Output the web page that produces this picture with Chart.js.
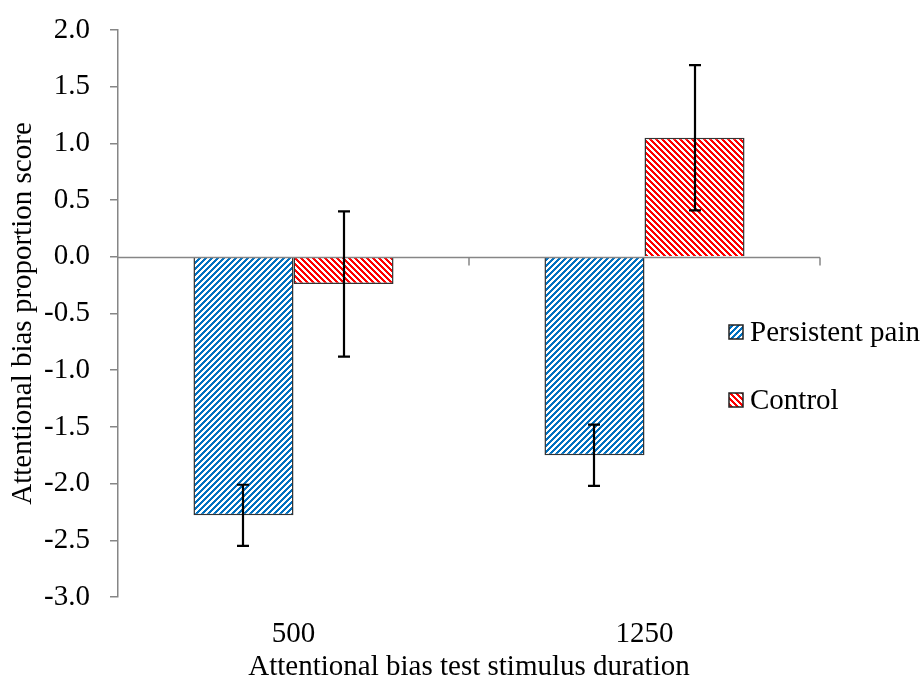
<!DOCTYPE html>
<html>
<head>
<meta charset="utf-8">
<script src="https://cdn.jsdelivr.net/npm/chart.js@4/dist/chart.umd.min.js"></script>
<style>
html,body{margin:0;padding:0;background:#fff;}
#wrap{width:923px;height:683px;}
</style>
</head>
<body>
<div id="wrap"><canvas id="c" width="923" height="683"></canvas></div>
<script>
const categories = ['500', '1250'];
const seriesNames = ['Persistent pain', 'Control'];
const persistentPain = [-2.28, -1.75];
const persistentPainErr = [0.27, 0.27];
const control = [-0.24, 1.05];
const controlErr = [0.64, 0.64];
const yTicks = [-3.0, -2.5, -2.0, -1.5, -1.0, -0.5, 0.0, 0.5, 1.0, 1.5, 2.0];

const FONT = "'Liberation Serif', 'Times New Roman', serif";
const FS = 29;
const AXIS = '#868686';

function makePattern(color, dir) {
  const n = 6, c = document.createElement('canvas');
  c.width = n; c.height = n;
  const g = c.getContext('2d');
  g.fillStyle = '#fff'; g.fillRect(0, 0, n, n);
  g.fillStyle = color;
  for (let x = 0; x < n; x++) for (let y = 0; y < n; y++) {
    const k = dir === '/' ? (x + y) % n : ((x - y) % n + n) % n;
    if (k < 3) g.fillRect(x, y, 1, 1);
  }
  return document.getElementById('c').getContext('2d').createPattern(c, 'repeat');
}
const bluePat = makePattern('#0070C0', '/');
const redPat = makePattern('#FF0000', '\\');

const errs = [persistentPainErr, controlErr];

const extras = {
  id: 'extras',
  afterDatasetsDraw(chart) {
    const ctx = chart.ctx, y = chart.scales.y;
    const ca = chart.chartArea;
    ctx.save();
    // zero axis line
    const y0 = Math.round(y.getPixelForValue(0)) + 0.5;
    ctx.strokeStyle = AXIS; ctx.lineWidth = 1.5;
    ctx.beginPath(); ctx.moveTo(ca.left, y0); ctx.lineTo(ca.right, y0); ctx.stroke();
    // category boundary ticks
    const n = categories.length;
    for (let i = 1; i <= n; i++) {
      const bx = ca.left + (ca.right - ca.left) * i / n;
      ctx.beginPath(); ctx.moveTo(bx, y0); ctx.lineTo(bx, y0 + 8); ctx.stroke();
    }
    // error bars
    ctx.strokeStyle = '#000'; ctx.lineWidth = 2.2;
    chart.data.datasets.forEach((ds, di) => {
      const meta = chart.getDatasetMeta(di);
      meta.data.forEach((bar, i) => {
        const v = ds.data[i], e = errs[di][i];
        const cx = Math.round(bar.x);
        const yt = y.getPixelForValue(v + e), yb = y.getPixelForValue(v - e);
        ctx.beginPath();
        ctx.moveTo(cx, yt); ctx.lineTo(cx, yb);
        ctx.moveTo(cx - 6, yt); ctx.lineTo(cx + 6, yt);
        ctx.moveTo(cx - 6, yb); ctx.lineTo(cx + 6, yb);
        ctx.stroke();
      });
    });
    // legend
    const legendY = [332, 400];
    chart.data.datasets.forEach((ds, di) => {
      const ly = legendY[di];
      ctx.fillStyle = ds.backgroundColor;
      ctx.fillRect(729, ly - 7, 14, 14);
      ctx.strokeStyle = '#222'; ctx.lineWidth = 1.5;
      ctx.strokeRect(729, ly - 7, 14, 14);
      ctx.fillStyle = '#000';
      ctx.font = FS + 'px ' + FONT;
      ctx.textBaseline = 'middle'; ctx.textAlign = 'left';
      ctx.fillText(ds.label, 750, ly + 1);
    });
    ctx.restore();
  }
};

const font = { family: FONT, size: FS, lineHeight: 1.1 };
const yTickFont = { family: FONT, size: FS, lineHeight: 0.6 };

new Chart(document.getElementById('c'), {
  type: 'bar',
  data: {
    labels: categories,
    datasets: [
      { label: seriesNames[0], data: persistentPain, backgroundColor: bluePat, borderColor: '#333', borderWidth: 1.5 },
      { label: seriesNames[1], data: control, backgroundColor: redPat, borderColor: '#333', borderWidth: 1.5 }
    ]
  },
  options: {
    responsive: false,
    animation: false,
    devicePixelRatio: 1,
    categoryPercentage: 0.57,
    barPercentage: 1.0,
    layout: { padding: { left: 0, right: 103, top: 30, bottom: 0 } },
    plugins: { legend: { display: false }, tooltip: { enabled: false } },
    scales: {
      x: {
        grid: { display: false, drawTicks: false },
        border: { display: false },
        ticks: { color: '#000', font: font, padding: 21 },
        title: { display: true, text: 'Attentional bias test stimulus duration', color: '#000', font: font, padding: { top: 3, bottom: 0 } },
        afterFit(scale) { scale.height = 86; }
      },
      y: {
        min: -3, max: 2,
        afterBuildTicks(axis) { axis.ticks = yTicks.map(v => ({ value: v })); },
        grid: { drawOnChartArea: false, drawTicks: true, tickLength: 8, color: AXIS, lineWidth: 1.5 },
        border: { display: true, color: AXIS, width: 1.5 },
        ticks: { color: '#000', font: yTickFont, padding: 20, callback: v => Number(v).toFixed(1) },
        title: { display: true, text: 'Attentional bias proportion score', color: '#000', font: font, padding: { top: 7, bottom: 0 } },
        afterFit(scale) { scale.width = 118; }
      }
    }
  },
  plugins: [extras]
});
</script>
</body>
</html>
